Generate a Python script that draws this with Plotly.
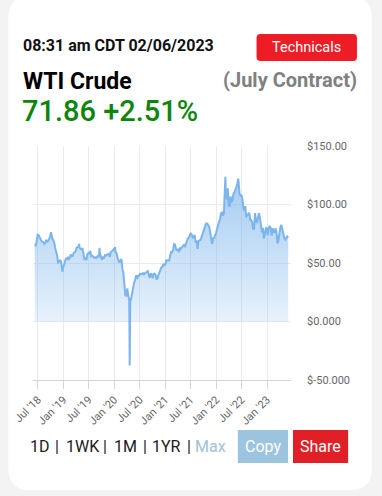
import plotly.graph_objects as go

# ---------------- data ----------------
dates = [
    "2018-06-08","2018-06-15","2018-06-22","2018-06-29","2018-07-06","2018-07-13","2018-07-20","2018-07-27",
    "2018-08-03","2018-08-10","2018-08-17","2018-08-24","2018-08-31","2018-09-07","2018-09-14","2018-09-21",
    "2018-09-28","2018-10-03","2018-10-12","2018-10-19","2018-10-26","2018-11-02","2018-11-09","2018-11-16",
    "2018-11-23","2018-11-30","2018-12-07","2018-12-14","2018-12-21","2018-12-24","2018-12-28",
    "2019-01-04","2019-01-11","2019-01-18","2019-01-25","2019-02-01","2019-02-08","2019-02-15","2019-02-22",
    "2019-03-01","2019-03-08","2019-03-15","2019-03-22","2019-03-29","2019-04-05","2019-04-12","2019-04-19",
    "2019-04-23","2019-04-26","2019-05-03","2019-05-10","2019-05-17","2019-05-24","2019-05-31","2019-06-07",
    "2019-06-14","2019-06-21","2019-06-28","2019-07-05","2019-07-12","2019-07-19","2019-07-26","2019-08-02",
    "2019-08-09","2019-08-16","2019-08-23","2019-08-30","2019-09-06","2019-09-13","2019-09-16","2019-09-20",
    "2019-09-27","2019-10-04","2019-10-11","2019-10-18","2019-10-25","2019-11-01","2019-11-08","2019-11-15",
    "2019-11-22","2019-11-29","2019-12-06","2019-12-13","2019-12-20","2019-12-27",
    "2020-01-03","2020-01-06","2020-01-10","2020-01-17","2020-01-24","2020-01-31","2020-02-07","2020-02-14",
    "2020-02-21","2020-02-28","2020-03-06","2020-03-13","2020-03-20","2020-03-27","2020-04-03","2020-04-09",
    "2020-04-17","2020-04-20","2020-04-24","2020-05-01","2020-05-08","2020-05-15","2020-05-22","2020-05-29",
    "2020-06-05","2020-06-12","2020-06-19","2020-06-26","2020-07-02","2020-07-10","2020-07-17","2020-07-24",
    "2020-07-31","2020-08-07","2020-08-14","2020-08-21","2020-08-28","2020-09-04","2020-09-11","2020-09-18",
    "2020-09-25","2020-10-02","2020-10-09","2020-10-16","2020-10-23","2020-10-30","2020-11-06","2020-11-13",
    "2020-11-20","2020-11-27","2020-12-04","2020-12-11","2020-12-18","2020-12-24","2020-12-31",
    "2021-01-08","2021-01-15","2021-01-22","2021-01-29","2021-02-05","2021-02-12","2021-02-19","2021-02-26",
    "2021-03-05","2021-03-12","2021-03-19","2021-03-26","2021-04-01","2021-04-09","2021-04-16","2021-04-23",
    "2021-04-30","2021-05-07","2021-05-14","2021-05-21","2021-05-28","2021-06-04","2021-06-11","2021-06-18",
    "2021-06-25","2021-07-02","2021-07-09","2021-07-16","2021-07-23","2021-07-30","2021-08-06","2021-08-13",
    "2021-08-20","2021-08-27","2021-09-03","2021-09-10","2021-09-17","2021-09-24","2021-10-01","2021-10-08",
    "2021-10-15","2021-10-22","2021-10-29","2021-11-05","2021-11-12","2021-11-19","2021-11-26","2021-12-03",
    "2021-12-10","2021-12-17","2021-12-23","2021-12-31",
    "2022-01-07","2022-01-14","2022-01-21","2022-01-28","2022-02-04","2022-02-11","2022-02-18","2022-02-25",
    "2022-03-04","2022-03-07","2022-03-08","2022-03-11","2022-03-18","2022-03-25","2022-04-01","2022-04-08",
    "2022-04-14","2022-04-22","2022-04-29","2022-05-06","2022-05-13","2022-05-20","2022-05-27","2022-06-03",
    "2022-06-08","2022-06-10","2022-06-17","2022-06-24","2022-07-01","2022-07-08","2022-07-15","2022-07-22",
    "2022-07-29","2022-08-05","2022-08-12","2022-08-19","2022-08-26","2022-09-02","2022-09-09","2022-09-16",
    "2022-09-23","2022-09-30","2022-10-07","2022-10-14","2022-10-21","2022-10-28","2022-11-04","2022-11-11",
    "2022-11-18","2022-11-25","2022-12-02","2022-12-09","2022-12-16","2022-12-23","2022-12-30",
    "2023-01-06","2023-01-13","2023-01-20","2023-01-27","2023-02-03","2023-02-10","2023-02-17","2023-02-24",
    "2023-03-03","2023-03-10","2023-03-17","2023-03-24","2023-03-31","2023-04-07","2023-04-14","2023-04-21",
    "2023-04-28","2023-05-05","2023-05-12","2023-05-19","2023-05-26","2023-06-02",
]
prices = [
    65.74,65.06,68.58,74.15,73.80,71.01,70.46,68.69,
    68.49,67.63,65.91,68.72,69.80,67.75,68.99,70.78,
    73.25,76.41,71.34,69.12,67.59,63.14,60.19,56.46,
    50.42,50.93,52.61,51.20,45.59,42.53,45.33,
    47.96,51.59,53.80,53.69,55.26,52.72,55.59,57.26,
    55.80,56.07,58.52,59.04,60.14,63.08,63.89,64.00,
    66.30,63.30,61.94,61.66,62.76,58.63,53.50,54.00,
    52.51,57.43,58.47,57.51,60.21,55.63,56.20,55.66,
    54.50,54.87,54.17,55.10,56.52,54.85,62.90,58.09,
    55.91,52.81,54.70,53.78,56.66,56.20,57.24,57.72,
    57.77,55.17,59.20,60.07,60.44,61.72,
    63.05,63.27,59.04,58.54,54.19,51.56,50.32,52.05,
    53.38,44.76,41.28,31.73,22.43,21.51,28.34,22.76,
    18.27,-37.63,16.94,19.78,24.74,29.43,33.25,35.49,
    39.55,36.26,39.75,38.49,40.65,40.55,40.59,41.29,
    40.27,41.22,42.01,42.34,42.97,39.77,37.33,41.11,
    40.25,37.05,40.60,40.88,39.85,35.79,37.14,40.13,
    42.15,45.53,46.26,46.57,49.10,48.23,48.52,
    52.24,52.36,52.27,52.20,56.85,59.47,59.24,61.50,
    66.09,65.61,61.42,60.97,61.45,59.32,63.13,62.14,
    63.58,64.90,65.37,63.58,66.32,69.62,70.91,71.64,
    74.05,75.16,74.56,71.81,72.07,73.95,68.28,68.44,
    62.14,68.74,69.29,69.72,71.97,73.98,75.88,79.35,
    82.28,83.76,83.57,81.27,80.79,76.10,68.15,66.26,
    71.67,70.86,73.79,75.21,
    78.90,83.82,85.14,86.82,92.31,93.10,91.07,91.59,
    115.68,119.40,123.70,109.33,104.70,113.90,99.27,98.26,
    106.95,102.07,104.69,109.77,110.49,113.23,115.07,118.87,
    122.11,120.67,109.56,107.62,108.43,104.79,97.59,94.70,
    98.62,89.01,92.09,90.77,93.06,86.87,86.79,85.11,
    78.74,79.49,92.64,85.61,85.05,87.90,92.61,88.96,
    80.08,76.28,79.98,71.02,74.29,79.56,80.26,
    73.77,79.86,81.64,79.68,73.39,79.72,76.34,76.32,
    79.68,76.68,66.74,69.26,75.67,80.70,82.52,77.87,
    76.78,71.34,70.04,71.69,72.67,71.74,
]

x_tick_vals = ["2018-07-01","2019-01-01","2019-07-01","2020-01-01","2020-07-01",
               "2021-01-01","2021-07-01","2022-01-01","2022-07-01","2023-01-01"]
x_tick_text = ["Jul '18","Jan '19","Jul '19","Jan '20","Jul '20",
               "Jan '21","Jul '21","Jan '22","Jul '22","Jan '23"]
y_tick_vals = [-50, 0, 50, 100, 150]
y_tick_text = ["$-50.000", "$0.000", "$50.00", "$100.00", "$150.00"]

range_labels = ["1D", "1WK", "1M", "1YR", "Max"]

# ---------------- layout geometry (pixels) ----------------
W, H = 382, 496
ML, MR, MT, MB = 29, 91, 146, 116
PW = W - ML - MR
PH = H - MT - MB


def px(x):
    return (x - ML) / PW


def py(y):
    return (H - MB - y) / PH


def rrect(x0, y0, x1, y1, r):
    pts = [
        f"M {px(x0 + r)} {py(y0)}",
        f"L {px(x1 - r)} {py(y0)}",
        f"Q {px(x1)} {py(y0)} {px(x1)} {py(y0 + r)}",
        f"L {px(x1)} {py(y1 - r)}",
        f"Q {px(x1)} {py(y1)} {px(x1 - r)} {py(y1)}",
        f"L {px(x0 + r)} {py(y1)}",
        f"Q {px(x0)} {py(y1)} {px(x0)} {py(y1 - r)}",
        f"L {px(x0)} {py(y0 + r)}",
        f"Q {px(x0)} {py(y0)} {px(x0 + r)} {py(y0)}",
        "Z",
    ]
    return " ".join(pts)


FONT = "Roboto, 'Open Sans', sans-serif"
LINE_COLOR = "#7cb5ec"

fig = go.Figure()
fig.add_trace(go.Scatter(
    x=dates, y=prices, mode="lines",
    line=dict(color=LINE_COLOR, width=2),
    fill="tozeroy",
    fillgradient=dict(
        type="vertical",
        colorscale=[[0, "rgba(124,181,236,0.18)"], [1, "rgba(124,181,236,0.70)"]],
        start=0, stop=125,
    ),
    hoverinfo="skip",
    showlegend=False,
))

shapes = [
    # card
    dict(type="path", xref="paper", yref="paper", path=rrect(4, -4, 373, 490, 22),
         fillcolor="white", line=dict(width=0), layer="below"),
    # Technicals button
    dict(type="path", xref="paper", yref="paper", path=rrect(256, 34, 358, 61, 4),
         fillcolor="#ee1c25", line=dict(width=0), layer="above"),
    # Copy button
    dict(type="rect", xref="paper", yref="paper", x0=px(237), x1=px(288), y0=py(430), y1=py(463),
         fillcolor="#9dc4de", line=dict(width=0), layer="above"),
    # Share button
    dict(type="rect", xref="paper", yref="paper", x0=px(293), x1=px(349), y0=py(430), y1=py(463),
         fillcolor="#e02026", line=dict(width=0), layer="above"),
]

ann = []


def txt(text, x, y, size, color, xanchor="left", bold=False, weight=None):
    font = dict(family=FONT, size=size, color=color)
    if weight is not None:
        font["weight"] = weight
    ann.append(dict(
        text=f"<b>{text}</b>" if bold else text,
        x=px(x), y=py(y), xref="paper", yref="paper",
        xanchor=xanchor, yanchor="middle", showarrow=False,
        font=font, borderpad=0,
    ))


txt("08:31 am CDT 02/06/2023", 18, 46, 16, "#111111", bold=True)
txt("Technicals", 307, 47.5, 14.5, "white", xanchor="center")
txt("WTI Crude", 18, 81, 23, "#000000", bold=True)
txt("(July Contract)", 359, 80, 20, "#808080", xanchor="right", bold=True)
txt("71.86 +2.51%", 17, 111, 29, "#0b860b", weight=500)

# range selector row
nav_x = [29, 65, 114, 153, 197]
sep_x = [54.5, 103.5, 143.5, 188]
for i, lab in enumerate(range_labels):
    col = "#a3c2d6" if lab == "Max" else "#1a1a1a"
    txt(lab, nav_x[i] - 4, 446.5, 16, col)
for sx in sep_x:
    txt("|", sx - 1, 446.5, 16, "#1a1a1a", xanchor="center")

txt("Copy", 262.5, 446, 16, "white", xanchor="center")
txt("Share", 321, 446, 16, "white", xanchor="center")

fig.update_layout(
    width=W, height=H,
    margin=dict(l=ML, r=MR, t=MT, b=MB, pad=0),
    paper_bgcolor="#f3f3f3",
    plot_bgcolor="rgba(0,0,0,0)",
    font=dict(family=FONT, color="#666666"),
    shapes=shapes,
    annotations=ann,
    showlegend=False,
    xaxis=dict(
        range=["2018-05-27", "2023-06-22"],
        tickvals=x_tick_vals, ticktext=x_tick_text,
        tickangle=-45,
        tickfont=dict(size=11, color="#666666", family=FONT),
        showgrid=True, gridcolor="#ebebeb", gridwidth=1,
        showline=True, linecolor="#ccd6eb", linewidth=1,
        ticks="outside", ticklen=8, tickcolor="#ccd6eb",
        zeroline=False, fixedrange=True,
    ),
    yaxis=dict(
        range=[-50, 150], side="right",
        tickvals=y_tick_vals, ticktext=y_tick_text,
        tickfont=dict(size=11, color="#666666", family=FONT),
        showgrid=True, gridcolor="#ebebeb", gridwidth=1,
        zeroline=False, showline=False, ticks="",
        ticklabelstandoff=15, fixedrange=True,
    ),
)

fig.write_html(
    "out.html",
    config={"displayModeBar": False, "staticPlot": True},
    post_script="document.body.style.margin='0';document.body.style.overflow='hidden';",
)
